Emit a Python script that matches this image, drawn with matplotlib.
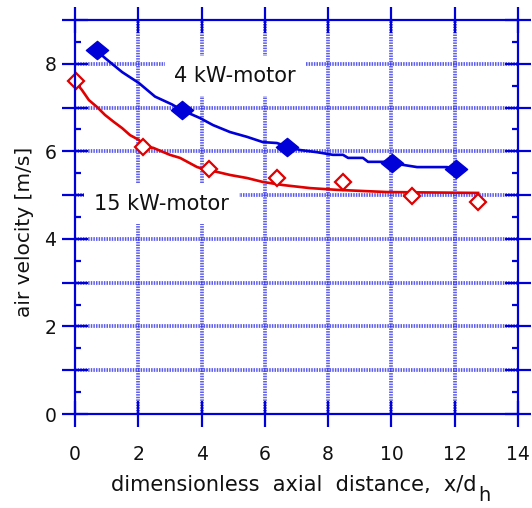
import matplotlib
matplotlib.use("Agg")
import matplotlib.pyplot as plt
from matplotlib.path import Path
from matplotlib.ticker import MultipleLocator, FuncFormatter

plt.rcParams["font.family"] = ["DejaVu Sans"]

BLUE = "#0000d8"
RED = "#e00000"
INK = "#111111"

# 4 kW motor: measured points and fitted profile
m4_x = [0.69, 3.37, 6.69, 10.01, 12.03]
m4_y = [8.31, 6.94, 6.11, 5.73, 5.60]
m4_line_x = [0.64, 0.95, 1.49, 2.02, 2.53, 3.07, 3.38, 3.95, 4.36, 4.90, 5.44,
             5.94, 6.38, 6.67, 7.11, 7.65, 8.15, 8.47, 8.63, 9.10, 9.26, 9.80,
             10.02, 10.81, 11.76, 12.07]
m4_line_y = [8.33, 8.13, 7.81, 7.56, 7.25, 7.07, 6.94, 6.76, 6.60, 6.44, 6.33,
             6.21, 6.19, 6.12, 6.03, 5.98, 5.92, 5.92, 5.85, 5.85, 5.76, 5.76,
             5.73, 5.64, 5.64, 5.57]

# 15 kW motor: measured points and fitted profile
m15_x = [0.03, 2.14, 4.24, 6.37, 8.48, 10.64, 12.75]
m15_y = [7.60, 6.09, 5.59, 5.40, 5.29, 4.99, 4.85]
m15_line_x = [0.01, 0.22, 0.44, 0.70, 0.95, 1.23, 1.49, 1.74, 2.02, 2.18, 2.47,
              3.00, 3.32, 3.86, 4.20, 4.49, 4.90, 5.44, 5.94, 6.57, 7.43, 8.28,
              9.86, 12.74]
m15_line_y = [7.59, 7.40, 7.17, 7.01, 6.83, 6.67, 6.53, 6.37, 6.26, 6.10, 6.08,
              5.92, 5.85, 5.64, 5.57, 5.53, 5.46, 5.39, 5.30, 5.23, 5.16, 5.12,
              5.07, 5.05]

x_ticks = [0, 2, 4, 6, 8, 10, 12, 14]
y_labels = [0, 2, 4, 6, 8]

# slightly flattened diamond for the filled markers
flat_diamond = Path([(-1, 0), (0, 0.82), (1, 0), (0, -0.82), (-1, 0)],
                    [Path.MOVETO, Path.LINETO, Path.LINETO, Path.LINETO, Path.CLOSEPOLY])

fig = plt.figure(figsize=(5.32, 5.08), dpi=100)
ax = fig.add_axes([75 / 532, 94 / 508, 443 / 532, 394 / 508])

ax.set_xlim(0, 14)
ax.set_ylim(0, 9)

# dotted grid
grid_kw = dict(color="#3434e6", lw=2.7, ls=(0, (0.4, 0.3)), alpha=0.8, zorder=1)
for gx in x_ticks[1:-1]:
    ax.axvline(gx, **grid_kw)
for gy in range(1, 9):
    ax.axhline(gy, **grid_kw)

ax.plot(m4_line_x, m4_line_y, color=BLUE, lw=1.9, zorder=3)
ax.plot(m4_x, m4_y, ls="none", marker=flat_diamond, ms=16, color=BLUE,
        mec=BLUE, zorder=4, clip_on=False)

ax.plot(m15_line_x, m15_line_y, color=RED, lw=1.9, zorder=3)
ax.plot(m15_x, m15_y, ls="none", marker="D", ms=8, mfc="white", mec=RED,
        mew=1.6, zorder=4, clip_on=False)

box = dict(facecolor="white", edgecolor="none", pad=7)
ax.text(5.06, 7.58, "4 kW-motor", ha="center", va="baseline", fontsize=15,
        color=INK, bbox=box, zorder=2)
ax.text(2.73, 4.66, "15 kW-motor", ha="center", va="baseline", fontsize=15,
        color=INK, bbox=box, zorder=2)

# axes frame and ticks
for sp in ax.spines.values():
    sp.set_color(BLUE)
    sp.set_linewidth(1.6)
    sp.set_zorder(5)

ax.xaxis.set_major_locator(MultipleLocator(2))
ax.yaxis.set_major_locator(MultipleLocator(1))
ax.yaxis.set_minor_locator(MultipleLocator(0.5))
ax.yaxis.set_major_formatter(FuncFormatter(
    lambda v, p: f"{int(round(v))}" if int(round(v)) in y_labels else ""))

ax.tick_params(axis="x", which="major", direction="inout", length=19, width=1.6,
               color=BLUE, top=True, bottom=True, labelsize=13.5, pad=13,
               labelcolor=INK)
ax.tick_params(axis="y", which="major", direction="inout", length=19, width=1.6,
               color=BLUE, left=True, right=True, labelsize=13.5, pad=4,
               labelcolor=INK)
ax.tick_params(axis="y", which="minor", direction="in", length=4.5, width=1.6,
               color=BLUE, left=True, right=True)
ax.tick_params(axis="x", which="minor", bottom=False, top=False)

xl = ax.set_xlabel("dimensionless  axial  distance,  x/d", fontsize=15,
                   color=INK)
ax.xaxis.set_label_coords(0.494, -0.154)
ax.annotate("h", xy=(1.0, 1.0), xycoords=xl, xytext=(1.5, -8),
            textcoords="offset points", fontsize=14, color=INK,
            ha="left", va="top")
ax.set_ylabel("air velocity [m/s]", fontsize=14.5, color=INK)
ax.yaxis.set_label_coords(-0.092, 0.462)

fig.savefig("out.png", dpi=100)
